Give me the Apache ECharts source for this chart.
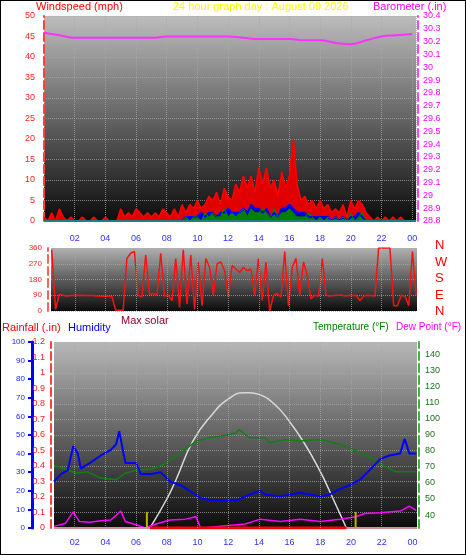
<!DOCTYPE html>
<html><head><meta charset="utf-8">
<script src="https://cdn.jsdelivr.net/npm/echarts@6/dist/echarts.min.js"></script>
<style>html,body{margin:0;padding:0;background:#fff}#c{width:466px;height:555px;box-sizing:border-box;border:1px solid #000}</style>
</head><body><div id="c"></div>
<script>
// ---------- DATA ----------
const hourTicks = [2,4,6,8,10,12,14,16,18,20,22,24];
const hourLabels = ['02','04','06','08','10','12','14','16','18','20','22','00'];
// wind, every 15 min from 00:00
const windGust = [1,0,2,0, 3,1,0,1, 0,0,1,0, 0,1,0,0, 1,0,0,0, 3,1,2,1, 3,2,1,2, 1,2,1,3, 2,1,3,1,
  4,2,4,3, 5,3,4,6, 5,7,4,8, 6,5,9,7, 11,8,11,7, 13,9,13,8, 10,6,12,8, 11,20,9,5, 6,4,5,3,
  5,3,4,2, 3,2,4,1, 5,3,5,4, 2,1,0,1, 0,1,0,1, 0,1,0,0, 0,0];
const windAvg = [0,0,0,0, 0,0,0,0, 0,0,0,0, 0,0,0,0, 0,0,0,0, 0,0,0,0, 0,0,0,0, 0,0,0,0, 0,0,0,0,
  0,1,1,1, 1,2,1,2, 2,1,2,2, 3,2,2,2, 3,2,4,3, 3,2,3,1, 2,1,3,3, 4,3,2,2, 2,1,1,1,
  1,1,1,0, 1,0,1,0, 1,1,2,1, 0,0,0,0, 0,0,0,0, 0,0,0,0, 0,0];
const windLow = [0,0,0,0, 0,0,0,0, 0,0,0,0, 0,0,0,0, 0,0,0,0, 0,0,0,0, 0,0,0,0, 0,0,0,0, 0,0,0,0,
  0,1,0,1, 1,0,2,1, 2,1,1,3, 1,2,1,2, 3,1,3,2, 2,3,2,1, 3,1,2,2, 3,2,1,1, 1,2,1,0,
  1,0,1,0, 1,0,1,0, 2,0,1,2, 0,0,0,0, 0,0,0,0, 0,0,0,0, 0,0];
// barometer hourly 0..24
const baroValues = [30.27,30.25,30.23,30.23,30.23,30.23,30.23,30.23,30.24,30.24,30.24,30.24,30.24,30.23,30.22,30.22,30.22,30.21,30.21,30.19,30.18,30.21,30.24,30.25,30.26];
// wind direction from 00:30 to 24:15
const windDir = [350,10,95,90, 85,88,90,88, 90,88,88,88, 86,85,85,85, 82,5,5,5, 300,330,340,90,
  80,320,95,100, 90,330,85,90, 60,300,20,350, 40,320,10,280, 30,300,250,90, 270,280,230,80,
  260,240,220,250, 230,240,90,300, 60,280,0,90, 100,80,340,30, 250,300,90,280, 200,70,90,85,
  300,90,85,88, 90,92,85,90, 88,90,60,85, 90,88,85,360, 360,360,360,30, 30,90,85,30, 340,90];
const humHours = [0.65,1.1,1.55,1.9,2.2,2.4,3,3.7,4.35,4.7,4.9,5.3,6,6.3,7,7.6,8.2,8.9,9.5,10.2,10.8,11.5,12.5,13.1,14.1,14.4,15.4,16.7,17.3,18,18.6,19.3,19.9,20.6,21.2,21.9,22.5,23.2,23.5,23.8,24.25];
const humValues = [25,29,31,44,40,32,35,39,42,45,52,35,35,29,29,30,25,23,20,16,15,14.6,14.6,17,20,18,17,19,18,17,18,21,23,26,31,37,39,40,48,40,40];
const tempHours = [0.65,1.4,2.1,2.8,3.7,4.7,5.3,6,7,7.9,8.9,9.9,10.8,11.5,12.5,12.7,13.4,14.4,14.7,15.7,16.7,18,19.3,20.3,21.2,21.9,22.9,23.5,24.25];
const tempValues = [71,68.6,66,67,63,62,66,68,68.6,72,78.5,86,88,89,91,93,88,88,85,87,86,87,84,80,76,72,67,67,67];
const dewHours = [0.65,1.4,1.9,2.3,3,3.7,4.35,5,5.3,6,6.6,7.3,8.2,9.2,9.9,10.2,10.8,12,13.1,14.1,15.4,16.7,18,19.3,20.3,20.9,21.9,23.2,23.8,24.25];
const dewValues = [33,35,42,36,35.5,36.5,37,42.5,36,34,32,34.5,37,37.5,39,32,32.5,33.5,34.5,37.5,36,37.5,36,37.5,39,41,41.5,42.5,45.6,43];
const solarHours = [6.9,8,8.6,9.7,11,12,13,13.4,14,15,16,17,18,18.6,19.7];
const solarValues = [32,50,62,86,103,112,116,116,115,109,98,84,67,55,32];
const rainHours = [6.9,19.7];
const rainValues = [0,0];
const sunEvents = [6.7,20.3];

// ---------- CHART ----------
const chart = echarts.init(document.getElementById('c'));
const F = 'Liberation Sans, Arial, sans-serif';
const grad = (a,b)=>new echarts.graphic.LinearGradient(0,0,0,1,[{offset:0,color:a},{offset:1,color:b}]);
const split = {show:true,lineStyle:{color:'#aaaaaa',type:'dotted',width:1,opacity:0.7}};
const zip = (h,v)=>h.map((x,i)=>[x,v[i]]);
const q = (v,start,step)=>v.map((y,i)=>[start+i*step,y]);
const dirStep = (24.25-0.5)/(windDir.length-1);
const vLines = {silent:true,symbol:'none',label:{show:false},lineStyle:{color:'#aaaaaa',type:'dotted',width:1,opacity:0.7},data:hourTicks.slice(0,-1).map(h=>({xAxis:h}))};

const option = {
  animation:false,
  backgroundColor:'#fff',
  grid:[
    {left:43,right:49,top:15,height:205,show:true,backgroundColor:grad('#bcbcbc','#0c0c0c'),borderWidth:0},
    {left:50,right:48,top:247,height:63,show:true,backgroundColor:grad('#b0b0b0','#0c0c0c'),borderWidth:0},
    {left:53,right:48,top:341,height:186,show:true,backgroundColor:grad('#b8b8b8','#0c0c0c'),borderWidth:0}
  ],
  xAxis:[
    {gridIndex:0,type:'value',min:0,max:24.25,interval:2,axisLine:{show:false},axisTick:{show:false},
     splitLine:split,axisLabel:{margin:13,color:'#3030ff',fontSize:9,fontFamily:F,formatter:v=>v===0?'':hourLabels[hourTicks.indexOf(v)]||''}},
    {gridIndex:1,type:'value',min:0.45,max:24.3,axisLine:{show:false},axisTick:{show:false},axisLabel:{show:false},
     splitLine:{show:false}},
    {gridIndex:2,type:'value',min:0.65,max:24.3,axisLine:{show:false},
     axisTick:{show:false},splitLine:{show:false},
     axisLabel:{customValues:hourTicks,margin:10,color:'#3030ff',fontSize:9,fontFamily:F,formatter:v=>hourLabels[hourTicks.indexOf(v)]||''}}
  ],
  yAxis:[
    {gridIndex:0,type:'value',min:0,max:50,interval:5,position:'left',offset:3,
     axisLine:{show:true,lineStyle:{color:'#ff4040',type:'dashed',width:2}},axisTick:{show:false},
     axisLabel:{color:'#ff2020',fontSize:9,fontFamily:F,margin:6},splitLine:split},
    {gridIndex:0,type:'value',min:28.8,max:30.4,interval:0.1,position:'right',offset:2,
     axisLine:{show:true,lineStyle:{color:'#ff40ff',type:'dashed',width:2}},axisTick:{show:false},
     axisLabel:{color:'#ff00ff',fontSize:9,fontFamily:F,margin:5,formatter:v=>(+v.toFixed(1)).toString()},splitLine:{show:false}},
    {gridIndex:1,type:'value',min:0,max:360,interval:90,position:'left',offset:3,
     axisLine:{show:true,lineStyle:{color:'#ff6060',type:'dashed',width:2}},axisTick:{show:false},
     axisLabel:{color:'#ff2020',fontSize:8,fontFamily:F,margin:6},splitLine:split},
    {gridIndex:2,type:'value',min:0,max:1.2,interval:0.1,position:'left',offset:3,
     axisLine:{show:true,lineStyle:{color:'#ff4040',type:'dashed',width:2}},axisTick:{show:false},
     axisLabel:{color:'#ff2020',fontSize:9,fontFamily:F,margin:6,formatter:v=>(+v.toFixed(1)).toString()},splitLine:split},
    {gridIndex:2,type:'value',min:0,max:100,interval:10,position:'left',offset:22,
     axisLine:{show:true,lineStyle:{color:'#0000ff',width:3}},axisTick:{show:true,length:4,lineStyle:{color:'#0000ff',width:2}},
     axisLabel:{color:'#2020ff',fontSize:8,fontFamily:F,margin:7},splitLine:{show:false}},
    {gridIndex:2,type:'value',min:32,max:147.5,position:'right',offset:2,
     axisLine:{show:true,lineStyle:{color:'#40b040',type:'dashed',width:2}},axisTick:{show:false},
     axisLabel:{customValues:[40,50,60,70,80,90,100,110,120,130,140],color:'#207020',fontSize:9,fontFamily:F,margin:6},splitLine:{show:false}}
  ],
  series:[
    {type:'line',xAxisIndex:0,yAxisIndex:1,data:baroValues.map((v,i)=>[i,v]),symbol:'none',smooth:true,lineStyle:{color:'#ff30ff',width:2}},
    {type:'line',xAxisIndex:0,yAxisIndex:0,data:q(windGust,0,0.25),symbol:'none',lineStyle:{color:'#ff0000',width:1.5},areaStyle:{color:'#e00000',opacity:1}},
    {type:'line',xAxisIndex:0,yAxisIndex:0,data:q(windAvg,0,0.25),symbol:'none',lineStyle:{color:'#0000ff',width:2},areaStyle:{color:'#0000c0',opacity:1}},
    {type:'line',xAxisIndex:0,yAxisIndex:0,data:q(windLow,0,0.25),symbol:'none',lineStyle:{color:'#008000',width:1},areaStyle:{color:'#008000',opacity:1}},
    {type:'line',xAxisIndex:0,yAxisIndex:0,data:[[0,0],[24.25,0]],symbol:'none',lineStyle:{color:'#208080',width:2}},
    {type:'line',xAxisIndex:1,yAxisIndex:2,data:windDir.map((v,i)=>[0.5+i*dirStep,v]),symbol:'none',lineStyle:{color:'#ff1010',width:1.5},markLine:vLines},
    {type:'line',xAxisIndex:2,yAxisIndex:5,data:zip(solarHours,solarValues),symbol:'none',smooth:true,lineStyle:{color:'#d8d8d8',width:1.5},markLine:vLines},
    {type:'line',xAxisIndex:2,yAxisIndex:5,data:zip(tempHours,tempValues),symbol:'none',lineStyle:{color:'#108010',width:1.5}},
    {type:'line',xAxisIndex:2,yAxisIndex:4,data:zip(humHours,humValues),symbol:'none',lineStyle:{color:'#0000ff',width:2}},
    {type:'line',xAxisIndex:2,yAxisIndex:5,data:zip(dewHours,dewValues),symbol:'none',lineStyle:{color:'#ff00ff',width:1.5}},
    {type:'line',xAxisIndex:2,yAxisIndex:3,data:[[0.65,0],[24.3,0]],symbol:'none',lineStyle:{color:'#d09090',width:2}},
    {type:'line',xAxisIndex:2,yAxisIndex:3,data:zip(rainHours,rainValues),symbol:'none',lineStyle:{color:'#ff0000',width:3}},
    ...sunEvents.map(h=>({type:'line',xAxisIndex:2,yAxisIndex:5,data:[[h,32],[h,42]],symbol:'none',lineStyle:{color:'#c0b000',width:2}}))
  ],
  graphic:[
    {type:'text',left:35,top:0,style:{text:'Windspeed (mph)',fill:'#ff0000',font:'11px '+F}},
    {type:'text',left:172,top:0,style:{text:'24 hour graph day : August 09 2026',fill:'#ffff00',font:'11px '+F}},
    {type:'text',left:372,top:0,style:{text:'Barometer (.in)',fill:'#ff00ff',font:'11px '+F}},
    {type:'text',left:120,top:314,style:{text:'Max solar',fill:'#900030',font:'11px '+F}},
    {type:'text',left:1,top:321,style:{text:'Rainfall (.in)',fill:'#ff0000',font:'11px '+F}},
    {type:'text',left:67,top:321,style:{text:'Humidity',fill:'#0000ff',font:'11px '+F}},
    {type:'text',left:312,top:321,style:{text:'Temperature (°F)',fill:'#008000',font:'10px '+F}},
    {type:'text',left:395,top:321,style:{text:'Dew Point (°F)',fill:'#ff00ff',font:'10px '+F}},
    ...['N','W','S','E','N'].map((t,i)=>({type:'text',left:434,top:238+i*16.5,style:{text:t,fill:'#ff0000',font:'13px '+F}}))
  ]
};
chart.setOption(option);
</script></body></html>
